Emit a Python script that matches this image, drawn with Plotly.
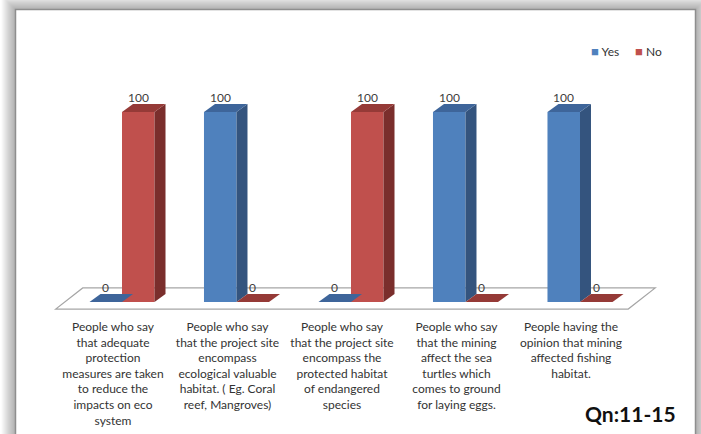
import plotly.graph_objects as go

# ---- data -------------------------------------------------------------
categories = [
    "People who say<br>that adequate<br>protection<br>measures are taken<br>to reduce the<br>impacts on eco<br>system",
    "People who say<br>that the project site<br>encompass<br>ecological valuable<br>habitat. ( Eg. Coral<br>reef, Mangroves)",
    "People who say<br>that the project site<br>encompass the<br>protected habitat<br>of endangered<br>species",
    "People who say<br>that the mining<br>affect the sea<br>turtles which<br>comes to ground<br>for laying eggs.",
    "People having the<br>opinion that mining<br>affected fishing<br>habitat.",
]
yes_values = [0, 100, 0, 100, 100]
no_values = [100, 0, 100, 0, 0]
series_names = ["Yes", "No"]

# ---- styling ------------------------------------------------------------
W, H = 701, 434
FONT = "Lato, 'Open Sans', sans-serif"
BAR_W = 0.284                 # width of each bar in category units
DEPTH_X, DEPTH_Y = 0.096, 4.2  # pseudo-3D depth of a bar (x units, y units)
X_RANGE = [-0.7, 4.8]
Y_RANGE = [-20, 120]

palette = {
    "Yes": {"front": "#4F81BD", "side": "#34547E", "top": "#3E659A"},
    "No": {"front": "#C0504D", "side": "#7A2E2C", "top": "#953A37"},
}
offsets = {"Yes": -BAR_W, "No": 0.0}

fig = go.Figure()
x_pos = list(range(len(categories)))

shapes = []
annotations = []

# page shadow around the white chart frame
frame_l, frame_t, frame_r = 15.5 / W, 1 - 9.5 / H, 695.5 / W
for i in range(14, 0, -1):
    shapes.append(dict(
        type="rect", xref="paper", yref="paper", layer="below",
        x0=frame_l - i / W, x1=frame_r + i / W, y0=-0.2, y1=frame_t + i / H,
        line=dict(width=0), fillcolor="rgba(0,0,0,0.024)",
    ))
shapes.append(dict(
    type="rect", xref="paper", yref="paper", layer="below",
    x0=frame_l, x1=frame_r, y0=-0.2, y1=frame_t,
    line=dict(color="#8E8E8E", width=1.5), fillcolor="white",
))

# floor of the 3-D plot area
fl_front = (-0.079, -3.7)
fl_back = (0.157, 7.4)
x_lo, x_hi = -0.5, len(categories) - 0.5
floor_path = (
    f"M {x_lo + fl_front[0]},{fl_front[1]} L {x_hi + fl_front[0]},{fl_front[1]} "
    f"L {x_hi + fl_back[0]},{fl_back[1]} L {x_lo + fl_back[0]},{fl_back[1]} Z"
)
shapes.append(dict(type="path", path=floor_path, xref="x", yref="y", layer="below",
                   line=dict(color="#A6A6A6", width=1.2), fillcolor="rgba(255,255,255,0)"))

for name, values in zip(series_names, [yes_values, no_values]):
    col = palette[name]
    fig.add_trace(go.Bar(
        x=x_pos, y=values, name=name, width=BAR_W, offset=offsets[name],
        marker=dict(color=col["front"], line=dict(width=0)),
        showlegend=False, hoverinfo="y+name",
    ))
    for xi, v in zip(x_pos, values):
        x0 = xi + offsets[name]
        x1 = x0 + BAR_W
        # right-hand side face
        side = (f"M {x1},0 L {x1 + DEPTH_X},{DEPTH_Y} L {x1 + DEPTH_X},{v + DEPTH_Y} "
                f"L {x1},{v} Z")
        # top face
        top = (f"M {x0},{v} L {x1},{v} L {x1 + DEPTH_X},{v + DEPTH_Y} "
               f"L {x0 + DEPTH_X},{v + DEPTH_Y} Z")
        shapes.append(dict(type="path", path=side, xref="x", yref="y", layer="above",
                           line=dict(width=0), fillcolor=col["side"]))
        shapes.append(dict(type="path", path=top, xref="x", yref="y", layer="above",
                           line=dict(width=0), fillcolor=col["top"]))
        # value label above the bar
        annotations.append(dict(
            x=x0 + BAR_W / 2, y=v, xref="x", yref="y", text=str(v),
            showarrow=False, yanchor="bottom", xanchor="center", yshift=5,
            font=dict(family=FONT, size=12, color="#404040"),
        ))

# legend
for name, lx in zip(series_names, [589, 633]):
    annotations.append(dict(
        x=lx / W, y=1 - 51 / H, xref="paper", yref="paper", xanchor="left", yanchor="middle",
        showarrow=False,
        text=f'<span style="color:{palette[name]["front"]};font-size:13px">■</span> {name}',
        font=dict(family=FONT, size=12, color="#333333"),
    ))

# question tag
annotations.append(dict(
    x=630 / W, y=1 - 413 / H, xref="paper", yref="paper", xanchor="center", yanchor="middle",
    showarrow=False, text="<b>Qn:11-15</b>",
    font=dict(family=FONT, size=21, color="#111111"),
))

px_per_x = 114.5
cat0_px = 122
y_px_per_unit = 1.9
zero_px = 302

fig.update_layout(
    width=W, height=H,
    margin=dict(l=0, r=0, t=0, b=0),
    paper_bgcolor="white", plot_bgcolor="rgba(0,0,0,0)",
    shapes=shapes, annotations=annotations,
    xaxis=dict(
        domain=[(cat0_px + X_RANGE[0] * px_per_x) / W, (cat0_px + X_RANGE[1] * px_per_x) / W],
        range=X_RANGE, tickvals=x_pos, ticktext=categories,
        showgrid=False, zeroline=False, showline=False, ticks="",
        anchor="free", position=1 - 318 / H, ticklabelshift=-9,
        tickfont=dict(family=FONT, size=12, color="#333333"),
        fixedrange=True,
    ),
    yaxis=dict(
        domain=[1 - (zero_px - Y_RANGE[0] * y_px_per_unit) / H,
                1 - (zero_px - Y_RANGE[1] * y_px_per_unit) / H],
        range=Y_RANGE, visible=False, fixedrange=True,
    ),
    barmode="overlay",
    font=dict(family=FONT),
)

fig.write_html("out.html")
